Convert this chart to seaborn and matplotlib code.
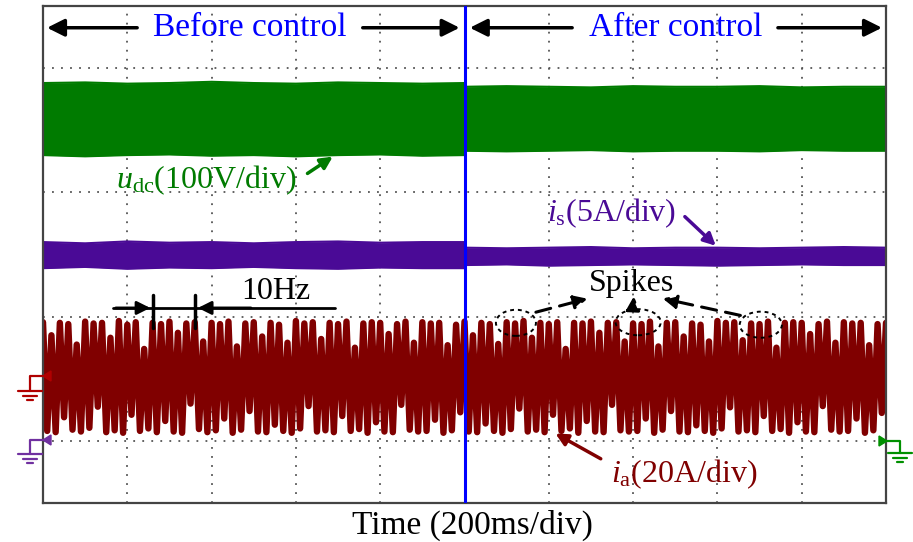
import numpy as np
import pandas as pd
import matplotlib
matplotlib.use("Agg")
import matplotlib.pyplot as plt
import seaborn as sns
from matplotlib.patches import Ellipse, Polygon
from matplotlib.lines import Line2D

# ---------------- data (time in s, values in screen divisions) ----------------
t_before = [0.0, 0.1, 0.2, 0.3, 0.4, 0.5, 0.6, 0.7, 0.8, 0.9, 1.0]
t_after = [1.0, 1.1, 1.2, 1.3, 1.4, 1.5, 1.6, 1.7, 1.8, 1.9, 2.0]

udc_hi_before = [6.76, 6.77, 6.75, 6.76, 6.78, 6.76, 6.75, 6.77, 6.76, 6.75, 6.76]
udc_lo_before = [5.60, 5.58, 5.60, 5.61, 5.59, 5.60, 5.58, 5.60, 5.61, 5.59, 5.60]
udc_hi_after = [6.70, 6.71, 6.70, 6.69, 6.71, 6.70, 6.70, 6.71, 6.69, 6.70, 6.70]
udc_lo_after = [5.67, 5.66, 5.67, 5.68, 5.66, 5.67, 5.67, 5.66, 5.68, 5.67, 5.67]

is_hi_before = [4.20, 4.18, 4.21, 4.19, 4.20, 4.18, 4.20, 4.21, 4.19, 4.20, 4.20]
is_lo_before = [3.78, 3.80, 3.77, 3.79, 3.78, 3.80, 3.78, 3.77, 3.79, 3.78, 3.78]
is_hi_after = [4.11, 4.10, 4.11, 4.12, 4.10, 4.11, 4.11, 4.10, 4.11, 4.12, 4.11]
is_lo_after = [3.83, 3.84, 3.82, 3.83, 3.84, 3.83, 3.82, 3.83, 3.84, 3.83, 3.83]

# i_a trace: alternating peaks / valleys, one sample every 10 ms
ia_trace = [
    2.91, 1.16, 2.70, 1.14, 2.90, 1.38, 2.88, 1.18, 2.55, 1.15,
    2.92, 1.21, 2.89, 1.55, 2.90, 1.14, 2.66, 1.17, 2.93, 1.13,
    2.87, 1.42, 2.91, 1.16, 2.48, 1.20, 2.90, 1.14, 2.88, 1.32,
    2.92, 1.15, 2.74, 1.13, 2.89, 1.60, 2.91, 1.19, 2.60, 1.14,
    2.90, 1.17, 2.88, 1.36, 2.92, 1.13, 2.52, 1.18, 2.89, 1.48,
    2.91, 1.15, 2.68, 1.14, 2.90, 1.26, 2.87, 1.16, 2.58, 1.13,
    2.93, 1.20, 2.89, 1.56, 2.91, 1.15, 2.64, 1.17, 2.90, 1.14,
    2.88, 1.40, 2.92, 1.16, 2.50, 1.19, 2.89, 1.13, 2.91, 1.30,
    2.90, 1.15, 2.72, 1.14, 2.88, 1.58, 2.92, 1.18, 2.58, 1.15,
    2.91, 1.16, 2.89, 1.34, 2.90, 1.13, 2.54, 1.17, 2.87, 1.46,
    2.92, 1.15, 2.70, 1.14, 2.90, 1.28, 2.88, 1.16, 2.56, 1.13,
    2.91, 1.19, 2.89, 1.52, 2.93, 1.15, 2.66, 1.18, 2.90, 1.14,
    2.88, 1.42, 2.91, 1.16, 2.48, 1.20, 2.90, 1.13, 2.89, 1.32,
    2.92, 1.15, 2.74, 1.14, 2.90, 1.58, 2.91, 1.17, 2.60, 1.15,
    2.89, 1.16, 2.88, 1.36, 2.92, 1.13, 2.52, 1.18, 2.90, 1.48,
    2.91, 1.15, 2.68, 1.14, 2.89, 1.25, 2.87, 1.16, 2.60, 1.13,
    2.93, 1.20, 2.90, 1.54, 2.91, 1.15, 2.62, 1.17, 2.89, 1.14,
    2.88, 1.40, 2.92, 1.16, 2.50, 1.19, 2.90, 1.13, 2.91, 1.30,
    2.90, 1.15, 2.72, 1.14, 2.88, 1.56, 2.92, 1.18, 2.58, 1.15,
    2.91, 1.16, 2.89, 1.36, 2.90, 1.13, 2.54, 1.17, 2.88, 1.45,
    2.90,
]
t_ia = np.linspace(0.0, 2.0, len(ia_trace))

C_UDC = "#007b00"
C_IS = "#4a0a96"
C_IA = "#800000"

# ---------------- figure ----------------
sns.set_theme(style="white")
plt.rcParams['font.family'] = ['Liberation Serif', 'DejaVu Serif']
plt.rcParams['mathtext.fontset'] = 'custom'
plt.rcParams['mathtext.rm'] = 'Liberation Serif'
plt.rcParams['mathtext.it'] = 'Liberation Serif:italic'

W, H = 913, 542
fig = plt.figure(figsize=(W / 100, H / 100), dpi=100)
ax = fig.add_axes([43 / W, 39 / H, 843 / W, 497 / H])
ax.set_xlim(0, 2.0)
ax.set_ylim(0, 8)
ax.set_xticks(np.arange(0, 2.01, 0.2))
ax.set_yticks(np.arange(0, 8.01, 1))
ax.set_xticklabels([])
ax.set_yticklabels([])
ax.tick_params(length=0)
ax.grid(True, ls=(0, (1, 4)), color="#555555", lw=1.3)
ax.set_axisbelow(True)
for s in ax.spines.values():
    s.set_color("#444444")
    s.set_linewidth(1.6)

# bands
for tt, hi, lo, c in [(t_before, udc_hi_before, udc_lo_before, C_UDC),
                      (t_after, udc_hi_after, udc_lo_after, C_UDC),
                      (t_before, is_hi_before, is_lo_before, C_IS),
                      (t_after, is_hi_after, is_lo_after, C_IS)]:
    ax.fill_between(tt, lo, hi, color=c, lw=0, zorder=2)
    sns.lineplot(x=tt, y=hi, ax=ax, color=c, lw=1.5, zorder=2)
    sns.lineplot(x=tt, y=lo, ax=ax, color=c, lw=1.5, zorder=2)

sns.lineplot(x=t_ia, y=ia_trace, ax=ax, color=C_IA, lw=4.6, sort=False,
             estimator=None, zorder=2)

ax.axvline(1.0, color="#0000ff", lw=2.2, zorder=4)

# header arrows
ak = dict(arrowstyle="-|>", color="black", lw=2.5, mutation_scale=26)
yh = 7.65
ax.annotate("", xy=(0.003, yh), xytext=(0.23, yh), arrowprops=ak)
ax.annotate("", xy=(0.995, yh), xytext=(0.752, yh), arrowprops=ak)
ax.annotate("", xy=(1.006, yh), xytext=(1.262, yh), arrowprops=ak)
ax.annotate("", xy=(1.997, yh), xytext=(1.737, yh), arrowprops=ak)
ax.text(0.491, yh, "Before control", color="#0000ff", fontsize=24,
        ha="center", va="center")
ax.text(1.502, yh, "After control", color="#0000ff", fontsize=24,
        ha="center", va="center")

# trace labels
ax.text(0.387, 5.20, r"$u_{\rm dc}$(100V/div)", color=C_UDC, fontsize=23,
        ha="center", va="center")
ax.annotate("", xy=(0.693, 5.60), xytext=(0.622, 5.28),
            arrowprops=dict(arrowstyle="-|>", color=C_UDC, lw=2.5, mutation_scale=18))
ax.text(1.35, 4.66, r"$i_{\rm s}$(5A/div)", color=C_IS, fontsize=23,
        ha="center", va="center")
ax.annotate("", xy=(1.601, 4.11), xytext=(1.518, 4.64),
            arrowprops=dict(arrowstyle="-|>", color=C_IS, lw=2.5, mutation_scale=18))
ax.text(1.521, 0.47, r"$i_{\rm a}$(20A/div)", color=C_IA, fontsize=23,
        ha="center", va="center")
ax.annotate("", xy=(1.21, 1.14), xytext=(1.329, 0.69),
            arrowprops=dict(arrowstyle="-|>", color=C_IA, lw=2.5, mutation_scale=18))

# 10 Hz marker
ax.text(0.553, 3.40, "10Hz", color="black", fontsize=23, ha="center", va="center")
ax.plot([0.166, 0.693], [3.14, 3.14], color="black", lw=2.0)
ax.annotate("", xy=(0.261, 3.14), xytext=(0.166, 3.14),
            arrowprops=dict(arrowstyle="-|>", color="black", lw=2.0, mutation_scale=20))
ax.annotate("", xy=(0.361, 3.14), xytext=(0.5, 3.14),
            arrowprops=dict(arrowstyle="-|>", color="black", lw=2.0, mutation_scale=20))
ax.plot([0.261, 0.261], [2.82, 3.35], color="black", lw=2.5)
ax.plot([0.361, 0.361], [2.82, 3.35], color="black", lw=2.5)

# spikes
ax.text(1.397, 3.53, "Spikes", color="black", fontsize=23, ha="center", va="center")
for cx, cy, w in [(1.122, 2.90, 0.095), (1.412, 2.91, 0.107), (1.703, 2.87, 0.10)]:
    ax.add_patch(Ellipse((cx, cy), w, 0.42, fill=False, ls=(0, (2, 2)),
                         ec="black", lw=1.4, zorder=5))
dk = dict(arrowstyle="-|>", color="black", lw=2.2, ls=(0, (5, 3)), mutation_scale=20)
ax.annotate("", xy=(1.298, 3.30), xytext=(1.163, 3.06), arrowprops=dk)
ax.annotate("", xy=(1.402, 3.37), xytext=(1.40, 3.10), arrowprops=dk)
ax.annotate("", xy=(1.464, 3.30), xytext=(1.661, 3.01), arrowprops=dk)

# x label
fig.text(472 / W, 1 - 525 / H, "Time (200ms/div)", fontsize=24, color="black",
         ha="center", va="center")


# ground markers (figure pixel coordinates)
def P(x, y):
    return x / W, 1 - y / H


def ground(tip_x, y_arr, stem_x, y_base, color, left=False):
    xs, ys = zip(P(tip_x, y_arr), P(stem_x, y_arr), P(stem_x, y_base))
    fig.add_artist(Line2D(xs, ys, color=color, lw=1.6, transform=fig.transFigure))
    for dy, hw in [(0, 12), (4.5, 7), (9, 3)]:
        a, b = P(stem_x - hw, y_base + dy), P(stem_x + hw, y_base + dy)
        fig.add_artist(Line2D([a[0], b[0]], [a[1], b[1]], color=color, lw=1.6,
                              transform=fig.transFigure))
    d = 8 if left else -8
    tri = [P(tip_x, y_arr), P(tip_x - d, y_arr - 5), P(tip_x - d, y_arr + 5)]
    fig.add_artist(Polygon(tri, closed=True, color=color, transform=fig.transFigure))


ground(43, 376, 30, 391, "#b00000")
ground(43, 440, 30, 454, "#7030a0")
ground(887, 441, 900, 453, "#009000", left=True)

fig.savefig("out.png", dpi=100)
